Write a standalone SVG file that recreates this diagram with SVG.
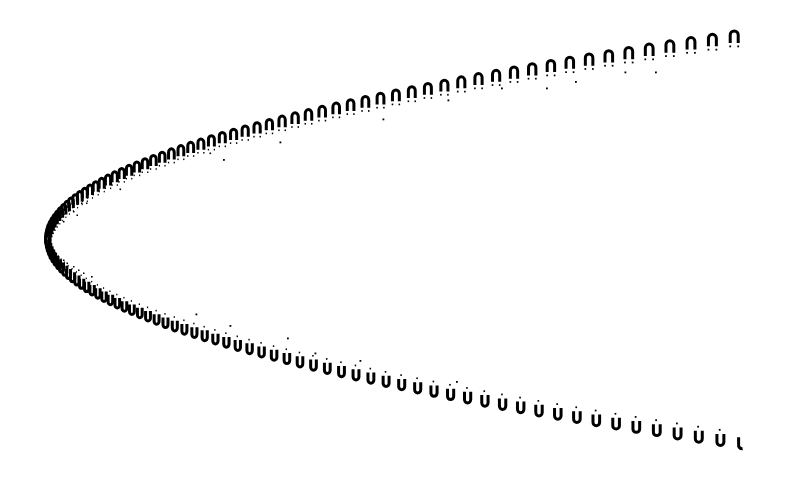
<svg xmlns="http://www.w3.org/2000/svg" width="792" height="482" viewBox="0 0 792 482">
<style>
.s{fill:none;stroke:#000;stroke-width:3;vector-effect:non-scaling-stroke}
.d{fill:#000}
</style>
<defs>
<g id="t"><path class="s" d="M-4 7.5V-0.5A4 4 0 0 1 4-0.5V7.5"/><rect class="d" x="-4.9" y="10" width="1.8" height="1.8"/><rect class="d" x="3.1" y="10" width="1.8" height="1.8"/></g>
<g id="b"><path class="s" d="M-3.5-7.5V0.5A3.5 3.5 0 0 0 3.5 0.5V-7.5"/><rect class="d" x="-1.6" y="-12.5" width="1.8" height="1.8"/></g>
</defs>
<rect width="792" height="482" fill="#fff"/>
<g id="upper-branch">
<use href="#t" transform="translate(734.2 35.5) scale(1 1)"/>
<use href="#t" transform="translate(712.4 38.76) scale(.99 1)"/>
<use href="#t" transform="translate(691 42.02) scale(.98 .99)"/>
<use href="#t" transform="translate(669.9 45.28) scale(.98 .99)"/>
<use href="#t" transform="translate(649.2 48.54) scale(.97 .99)"/>
<use href="#t" transform="translate(628.8 51.8) scale(.96 .98)"/>
<use href="#t" transform="translate(608.8 55.06) scale(.95 .98)"/>
<use href="#t" transform="translate(589.1 58.32) scale(.94 .98)"/>
<use href="#t" transform="translate(569.8 61.58) scale(.94 .97)"/>
<use href="#t" transform="translate(550.9 64.84) scale(.93 .97)"/>
<use href="#t" transform="translate(532.2 68.1) scale(.92 .97)"/>
<use href="#t" transform="translate(514 71.36) scale(.91 .97)"/>
<use href="#t" transform="translate(496.1 74.62) scale(.9 .96)"/>
<use href="#t" transform="translate(478.5 77.88) scale(.9 .96)"/>
<use href="#t" transform="translate(461.3 81.14) scale(.89 .96)"/>
<use href="#t" transform="translate(444.4 84.4) scale(.88 .95)"/>
<use href="#t" transform="translate(427.9 87.66) scale(.87 .95)"/>
<use href="#t" transform="translate(411.8 90.92) scale(.86 .95)"/>
<use href="#t" transform="translate(395.9 94.18) scale(.86 .94)"/>
<use href="#t" transform="translate(380.5 97.44) scale(.85 .94)"/>
<use href="#t" transform="translate(365.4 100.7) scale(.84 .94)"/>
<use href="#t" transform="translate(350.6 103.96) scale(.83 .93)"/>
<use href="#t" transform="translate(336.2 107.22) scale(.82 .93)"/>
<use href="#t" transform="translate(322.2 110.48) scale(.82 .93)"/>
<use href="#t" transform="translate(308.5 113.74) scale(.81 .92)"/>
<use href="#t" transform="translate(295.1 117) scale(.8 .92)"/>
<use href="#t" transform="translate(282.1 120.26) scale(.79 .92)"/>
<use href="#t" transform="translate(269.4 123.52) scale(.78 .91)"/>
<use href="#t" transform="translate(257.1 126.78) scale(.78 .91)"/>
<use href="#t" transform="translate(245.2 130.04) scale(.77 .91)"/>
<use href="#t" transform="translate(233.6 133.3) scale(.76 .9)"/>
<use href="#t" transform="translate(222.3 136.56) scale(.75 .9)"/>
<use href="#t" transform="translate(211.4 139.82) scale(.74 .9)"/>
<use href="#t" transform="translate(200.9 143.08) scale(.74 .89)"/>
<use href="#t" transform="translate(190.7 146.34) scale(.73 .89)"/>
<use href="#t" transform="translate(180.9 149.6) scale(.72 .89)"/>
<use href="#t" transform="translate(171.4 152.86) scale(.71 .89)"/>
<use href="#t" transform="translate(162.2 156.12) scale(.7 .88)"/>
<use href="#t" transform="translate(153.4 159.38) scale(.7 .88)"/>
<use href="#t" transform="translate(145 162.64) scale(.69 .88)"/>
<use href="#t" transform="translate(136.9 165.9) scale(.68 .87)"/>
<use href="#t" transform="translate(129.1 169.16) scale(.67 .87)"/>
<use href="#t" transform="translate(121.7 172.42) scale(.66 .87)"/>
<use href="#t" transform="translate(114.7 175.68) scale(.66 .86)"/>
<use href="#t" transform="translate(108 178.94) scale(.65 .86)"/>
<use href="#t" transform="translate(101.7 182.2) scale(.64 .86)"/>
<use href="#t" transform="translate(95.7 185.46) scale(.63 .85)"/>
<use href="#t" transform="translate(90 188.72) scale(.62 .85)"/>
<use href="#t" transform="translate(84.8 191.98) scale(.62 .85)"/>
<use href="#t" transform="translate(79.8 195.24) scale(.61 .84)"/>
<use href="#t" transform="translate(75.2 198.5) scale(.6 .84)"/>
<use href="#t" transform="translate(71 201.76) scale(.59 .84)"/>
<use href="#t" transform="translate(67.1 205.02) scale(.58 .83)"/>
<use href="#t" transform="translate(63.6 208.28) scale(.58 .83)"/>
<use href="#t" transform="translate(60.4 211.54) scale(.57 .83)"/>
<use href="#t" transform="translate(57.6 214.8) scale(.56 .82)"/>
<use href="#t" transform="translate(55.1 218.06) scale(.55 .82)"/>
<use href="#t" transform="translate(53 221.32) scale(.54 .82)"/>
<use href="#t" transform="translate(51.2 224.58) scale(.54 .81)"/>
<use href="#t" transform="translate(49.7 227.84) scale(.53 .81)"/>
<use href="#t" transform="translate(48.7 231.1) scale(.52 .81)"/>
<use href="#t" transform="translate(47.9 234.36) scale(.51 .8)"/>
<use href="#t" transform="translate(47.6 237.62) scale(.5 .8)"/>
</g>
<g id="lower-branch">
<path class="s" d="M738.6 437.2V444.5A3.7 3.7 0 0 0 742.6 448.8"/>
<use href="#b" transform="translate(720.4 441.44) scale(.99 1)"/>
<use href="#b" transform="translate(698.8 438.18) scale(.99 .99)"/>
<use href="#b" transform="translate(677.6 434.92) scale(.98 .99)"/>
<use href="#b" transform="translate(656.8 431.66) scale(.97 .99)"/>
<use href="#b" transform="translate(636.3 428.4) scale(.96 .99)"/>
<use href="#b" transform="translate(616.1 425.14) scale(.95 .98)"/>
<use href="#b" transform="translate(596.3 421.88) scale(.95 .98)"/>
<use href="#b" transform="translate(576.9 418.62) scale(.94 .98)"/>
<use href="#b" transform="translate(557.8 415.36) scale(.93 .97)"/>
<use href="#b" transform="translate(539 412.1) scale(.92 .97)"/>
<use href="#b" transform="translate(520.7 408.84) scale(.92 .97)"/>
<use href="#b" transform="translate(502.6 405.58) scale(.91 .96)"/>
<use href="#b" transform="translate(484.9 402.32) scale(.9 .96)"/>
<use href="#b" transform="translate(467.6 399.06) scale(.89 .96)"/>
<use href="#b" transform="translate(450.6 395.8) scale(.88 .95)"/>
<use href="#b" transform="translate(434 392.54) scale(.88 .95)"/>
<use href="#b" transform="translate(417.7 389.28) scale(.87 .95)"/>
<use href="#b" transform="translate(401.7 386.02) scale(.86 .94)"/>
<use href="#b" transform="translate(386.1 382.76) scale(.85 .94)"/>
<use href="#b" transform="translate(370.9 379.5) scale(.84 .94)"/>
<use href="#b" transform="translate(356 376.24) scale(.84 .93)"/>
<use href="#b" transform="translate(341.5 372.98) scale(.83 .93)"/>
<use href="#b" transform="translate(327.3 369.72) scale(.82 .93)"/>
<use href="#b" transform="translate(313.5 366.46) scale(.81 .92)"/>
<use href="#b" transform="translate(300 363.2) scale(.8 .92)"/>
<use href="#b" transform="translate(286.9 359.94) scale(.8 .92)"/>
<use href="#b" transform="translate(274.1 356.68) scale(.79 .91)"/>
<use href="#b" transform="translate(261.6 353.42) scale(.78 .91)"/>
<use href="#b" transform="translate(249.6 350.16) scale(.77 .91)"/>
<use href="#b" transform="translate(237.8 346.9) scale(.76 .91)"/>
<use href="#b" transform="translate(226.4 343.64) scale(.76 .9)"/>
<use href="#b" transform="translate(215.4 340.38) scale(.75 .9)"/>
<use href="#b" transform="translate(204.7 337.12) scale(.74 .9)"/>
<use href="#b" transform="translate(194.4 333.86) scale(.73 .89)"/>
<use href="#b" transform="translate(184.4 330.6) scale(.72 .89)"/>
<use href="#b" transform="translate(174.8 327.34) scale(.72 .89)"/>
<use href="#b" transform="translate(165.5 324.08) scale(.71 .88)"/>
<use href="#b" transform="translate(156.6 320.82) scale(.7 .88)"/>
<use href="#b" transform="translate(148 317.56) scale(.69 .88)"/>
<use href="#b" transform="translate(139.8 314.3) scale(.68 .87)"/>
<use href="#b" transform="translate(131.9 311.04) scale(.68 .87)"/>
<use href="#b" transform="translate(124.4 307.78) scale(.67 .87)"/>
<use href="#b" transform="translate(117.3 304.52) scale(.66 .86)"/>
<use href="#b" transform="translate(110.4 301.26) scale(.65 .86)"/>
<use href="#b" transform="translate(104 298) scale(.64 .86)"/>
<use href="#b" transform="translate(97.9 294.74) scale(.64 .85)"/>
<use href="#b" transform="translate(92.1 291.48) scale(.63 .85)"/>
<use href="#b" transform="translate(86.7 288.22) scale(.62 .85)"/>
<use href="#b" transform="translate(81.6 284.96) scale(.61 .84)"/>
<use href="#b" transform="translate(76.9 281.7) scale(.6 .84)"/>
<use href="#b" transform="translate(72.5 278.44) scale(.6 .84)"/>
<use href="#b" transform="translate(68.5 275.18) scale(.59 .83)"/>
<use href="#b" transform="translate(64.8 271.92) scale(.58 .83)"/>
<use href="#b" transform="translate(61.5 268.66) scale(.57 .83)"/>
<use href="#b" transform="translate(58.6 265.4) scale(.56 .83)"/>
<use href="#b" transform="translate(56 262.14) scale(.56 .82)"/>
<use href="#b" transform="translate(53.7 258.88) scale(.55 .82)"/>
<use href="#b" transform="translate(51.8 255.62) scale(.54 .82)"/>
<use href="#b" transform="translate(50.2 252.36) scale(.53 .81)"/>
<use href="#b" transform="translate(49 249.1) scale(.52 .81)"/>
<use href="#b" transform="translate(48.2 245.84) scale(.52 .81)"/>
<use href="#b" transform="translate(47.7 242.58) scale(.51 .8)"/>
</g>
<g id="stray-dots" class="d">
<rect x="624.5" y="71.5" width="1.8" height="1.8"/>
<rect x="655" y="71.5" width="1.8" height="1.8"/>
<rect x="546" y="87.5" width="1.8" height="1.8"/>
<rect x="575" y="81" width="1.8" height="1.8"/>
<rect x="501" y="87.5" width="1.8" height="1.8"/>
<rect x="447.5" y="99.5" width="1.8" height="1.8"/>
<rect x="382.5" y="118.5" width="1.8" height="1.8"/>
<rect x="279.5" y="141.5" width="1.8" height="1.8"/>
<rect x="223" y="159" width="1.8" height="1.8"/>
<rect x="209.5" y="152.5" width="1.6" height="1.6"/>
<rect x="119.5" y="188.5" width="1.6" height="1.6"/>
<rect x="81" y="202.5" width="1.5" height="1.5"/>
<rect x="86" y="202.5" width="1.5" height="1.5"/>
<rect x="73" y="211" width="1.5" height="1.5"/>
<rect x="76.5" y="214.5" width="1.5" height="1.5"/>
<rect x="63" y="221" width="1.5" height="1.5"/>
<rect x="63" y="259.5" width="1.5" height="1.5"/>
<rect x="66.5" y="262.5" width="1.5" height="1.5"/>
<rect x="73" y="266" width="1.5" height="1.5"/>
<rect x="78" y="269.5" width="1.5" height="1.5"/>
<rect x="83" y="272.5" width="1.5" height="1.5"/>
<rect x="91" y="276" width="1.6" height="1.6"/>
<rect x="195.5" y="313.5" width="1.8" height="1.8"/>
<rect x="229.5" y="325" width="1.8" height="1.8"/>
<rect x="287" y="337.5" width="1.8" height="1.8"/>
<rect x="314.5" y="352.5" width="1.8" height="1.8"/>
<rect x="359.5" y="360" width="1.8" height="1.8"/>
<rect x="456" y="381" width="1.8" height="1.8"/>
</g>
</svg>
